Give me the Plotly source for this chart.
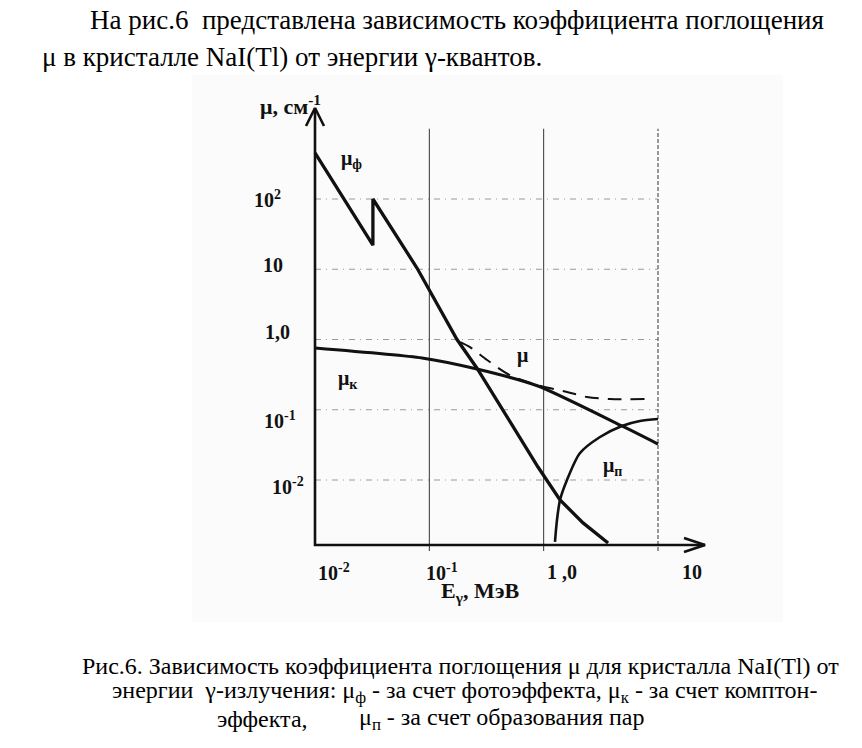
import math
import plotly.graph_objects as go

W, H = 862, 748

# ---------------- data ----------------
# photo-effect coefficient (with the iodine K-edge jump)
photo_E = [0.01, 0.0321, 0.0321, 0.078, 0.1746, 0.261, 0.892, 1.39, 2.21, 3.66]
photo_mu = [452, 22, 100, 10.4, 1.0, 0.39, 0.0153, 0.0052, 0.00245, 0.00127]
# Compton coefficient
compton_E = [0.01, 0.0863, 0.261, 0.892, 4.84, 10]
compton_mu = [0.757, 0.546, 0.380, 0.218, 0.0588, 0.0325]
# total coefficient (dashed)
total_E = [0.186, 0.227, 0.32, 0.508, 0.875, 1.60, 2.39, 3.80, 8.02]
total_mu = [0.92, 0.78, 0.51, 0.31, 0.225, 0.179, 0.152, 0.142, 0.142]
# pair production coefficient
pair_E = [1.256, 1.308, 1.39, 1.60, 2.08, 3.11, 4.83, 6.95, 10]
pair_mu = [0.00132, 0.0027, 0.0052, 0.01, 0.0242, 0.0409, 0.0587, 0.0692, 0.0738]

x_ticks = [0.01, 0.1, 1, 10]
x_tick_labels = ["10<sup>-2</sup>", "10<sup>-1</sup>", "1 ,0", "10"]
y_ticks = [100, 10, 1, 0.1, 0.01]
y_tick_labels = ["10<sup>2</sup>", "10", "1,0", "10<sup>-1</sup>", "10<sup>-2</sup>"]

x_title = "E<sub>γ</sub>, МэВ"
y_title = "μ, см<sup>-1</sup>"
curve_labels = ["μ<sub>ф</sub>", "μ<sub>к</sub>", "μ", "μ<sub>п</sub>"]

text_top = ["На рис.6&nbsp; представлена зависимость коэффициента поглощения",
            "μ в кристалле NaI(Tl) от энергии γ-квантов."]
caption = ["Рис.6. Зависимость коэффициента поглощения μ для кристалла NaI(Tl) от",
           "энергии&nbsp; γ-излучения: μ<sub>ф</sub> - за счет фотоэффекта, μ<sub>к</sub> - за счет комптон-",
           "эффекта,",
           "μ<sub>п</sub> - за счет образования пар"]

# ---------------- layout geometry ----------------
# pixel positions of the drawn axes in the picture
AX_LEFT_PX, AX_BOT_PX = 315, 545
X_TIP_PX, Y_TIP_PX = 705, 108
DEC_X = (658 - 315) / 3.0          # pixels per decade along E
DEC_Y = (480 - 199) / 4.0          # pixels per decade along mu
X_AXIS_LOG = math.log10(x_ticks[0])
Y_AXIS_LOG = 2 - (AX_BOT_PX - 199) / DEC_Y
X_TIP_LOG = X_AXIS_LOG + (X_TIP_PX - AX_LEFT_PX) / DEC_X
Y_TIP_LOG = Y_AXIS_LOG + (AX_BOT_PX - Y_TIP_PX) / DEC_Y

PAD = 14  # room around the axes so the arrow heads are not clipped
XR = [X_AXIS_LOG - PAD / DEC_X, X_TIP_LOG + PAD / DEC_X]
YR = [Y_AXIS_LOG - PAD / DEC_Y, Y_TIP_LOG + PAD / DEC_Y]
X_DOM = [(AX_LEFT_PX - PAD) / W, (X_TIP_PX + PAD) / W]
Y_DOM = [1 - (AX_BOT_PX + PAD) / H, 1 - (Y_TIP_PX - PAD) / H]


def P(x, y):
    return x / W, 1 - y / H


serif = "Liberation Serif"
BLACK = "#111111"

fig = go.Figure()

fig.add_trace(go.Scatter(x=photo_E, y=photo_mu, mode="lines",
                         line=dict(color=BLACK, width=3.3), hoverinfo="skip"))
fig.add_trace(go.Scatter(x=compton_E, y=compton_mu, mode="lines",
                         line=dict(color=BLACK, width=3.0, shape="spline", smoothing=0.6),
                         hoverinfo="skip"))
fig.add_trace(go.Scatter(x=pair_E, y=pair_mu, mode="lines",
                         line=dict(color=BLACK, width=2.6, shape="spline", smoothing=0.8),
                         hoverinfo="skip"))
fig.add_trace(go.Scatter(x=total_E, y=total_mu, mode="lines",
                         line=dict(color=BLACK, width=2.0, dash="14px,9px",
                                   shape="spline", smoothing=0.8),
                         hoverinfo="skip"))

ybot = 10 ** Y_AXIS_LOG
ytop = 10 ** Y_TIP_LOG
xleft = 10 ** X_AXIS_LOG
xright = 10 ** X_TIP_LOG

# axes with open chevron arrow heads
fig.add_trace(go.Scatter(x=[xleft, xleft, xright], y=[ytop, ybot, ybot], mode="lines",
                         line=dict(color=BLACK, width=2.6), hoverinfo="skip"))
dyl = 18 / DEC_Y
dxl = 9 / DEC_X
fig.add_trace(go.Scatter(x=[10 ** (X_AXIS_LOG - dxl), xleft, 10 ** (X_AXIS_LOG + dxl)],
                         y=[10 ** (Y_TIP_LOG - dyl), ytop, 10 ** (Y_TIP_LOG - dyl)],
                         mode="lines", line=dict(color=BLACK, width=2.6), hoverinfo="skip"))
dxa = 21 / DEC_X
dya = 7 / DEC_Y
fig.add_trace(go.Scatter(x=[10 ** (X_TIP_LOG - dxa), xright, 10 ** (X_TIP_LOG - dxa)],
                         y=[10 ** (Y_AXIS_LOG + dya), ybot, 10 ** (Y_AXIS_LOG - dya)],
                         mode="lines", line=dict(color=BLACK, width=2.6), hoverinfo="skip"))

shapes = []
# faint background of the scanned figure
x0, y0 = P(192, 75)
x1, y1 = P(783, 622)
shapes.append(dict(type="rect", xref="paper", yref="paper", x0=x0, y0=y1, x1=x1, y1=y0,
                   fillcolor="#fbfbfb", line=dict(width=0), layer="below"))

# horizontal grid lines
for v in y_ticks:
    shapes.append(dict(type="line", xref="x", yref="y", x0=x_ticks[0], x1=x_ticks[-1], y0=v, y1=v,
                       line=dict(color="#9a9a9a", width=1, dash="6px,5px,1px,5px"), layer="below"))
# vertical grid lines (with small tick below the axis)
for v in x_ticks[1:]:
    shapes.append(dict(type="line", xref="x", yref="y", x0=v, x1=v,
                       y0=10 ** (Y_AXIS_LOG - 6 / DEC_Y), y1=1000,
                       line=dict(color="#333333", width=1,
                                 dash="solid" if v < 10 else "4px,2px"), layer="below"))

ann = []
# top paragraph
for txt, (px, py) in zip(text_top, [(88, 20), (40, 57)]):
    ax_, ay_ = P(px, py)
    ann.append(dict(text=txt, x=ax_, y=ay_, xref="paper", yref="paper", xanchor="left",
                    yanchor="middle", showarrow=False, font=dict(family=serif, size=27, color="#000")))
# caption
for txt, (px, py) in zip(caption, [(80, 666), (110, 692), (215, 719), (357, 719)]):
    ax_, ay_ = P(px, py)
    ann.append(dict(text=txt, x=ax_, y=ay_, xref="paper", yref="paper", xanchor="left",
                    yanchor="middle", showarrow=False, font=dict(family=serif, size=24, color="#000")))

lab_font = dict(family=serif, size=20, color=BLACK, weight="bold")

# y tick labels
y_nudge = [0, 4, 8, -10, -6]
y_lab_x = [267, 273, 277, 280, 288]
for v, t, dy, px in zip(y_ticks, y_tick_labels, y_nudge, y_lab_x):
    ann.append(dict(text=t, x=px / W, xref="paper", y=math.log10(v), yref="y", yshift=dy,
                    xanchor="center", yanchor="middle", showarrow=False, font=lab_font))
# x tick labels
x_nudge = [19, 13, 18, 34]
for v, t, dx in zip(x_ticks, x_tick_labels, x_nudge):
    ann.append(dict(text=t, x=math.log10(v), xref="x", xshift=dx, y=P(0, 572)[1], yref="paper",
                    xanchor="center", yanchor="middle", showarrow=False, font=lab_font))

# axis titles
ax_, ay_ = P(480, 592)
ann.append(dict(text=x_title, x=ax_, y=ay_, xref="paper", yref="paper", xanchor="center",
                yanchor="middle", showarrow=False, font=dict(family=serif, size=22, color=BLACK, weight="bold")))
ax_, ay_ = P(290, 105)
ann.append(dict(text=y_title, x=ax_, y=ay_, xref="paper", yref="paper", xanchor="center",
                yanchor="middle", showarrow=False, font=dict(family=serif, size=22, color=BLACK, weight="bold")))

# curve labels
for t, (px, py) in zip(curve_labels, [(351, 160), (348, 379), (523, 355), (612, 466)]):
    ax_, ay_ = P(px, py)
    ann.append(dict(text=t, x=ax_, y=ay_, xref="paper", yref="paper", xanchor="center",
                    yanchor="middle", showarrow=False, font=lab_font))

fig.update_layout(
    width=W, height=H,
    margin=dict(l=0, r=0, t=0, b=0),
    paper_bgcolor="white", plot_bgcolor="rgba(0,0,0,0)",
    showlegend=False,
    xaxis=dict(type="log", range=XR, domain=X_DOM, visible=False, fixedrange=True),
    yaxis=dict(type="log", range=YR, domain=Y_DOM, visible=False, fixedrange=True),
    shapes=shapes, annotations=ann,
)

fig.write_html("out.html")
